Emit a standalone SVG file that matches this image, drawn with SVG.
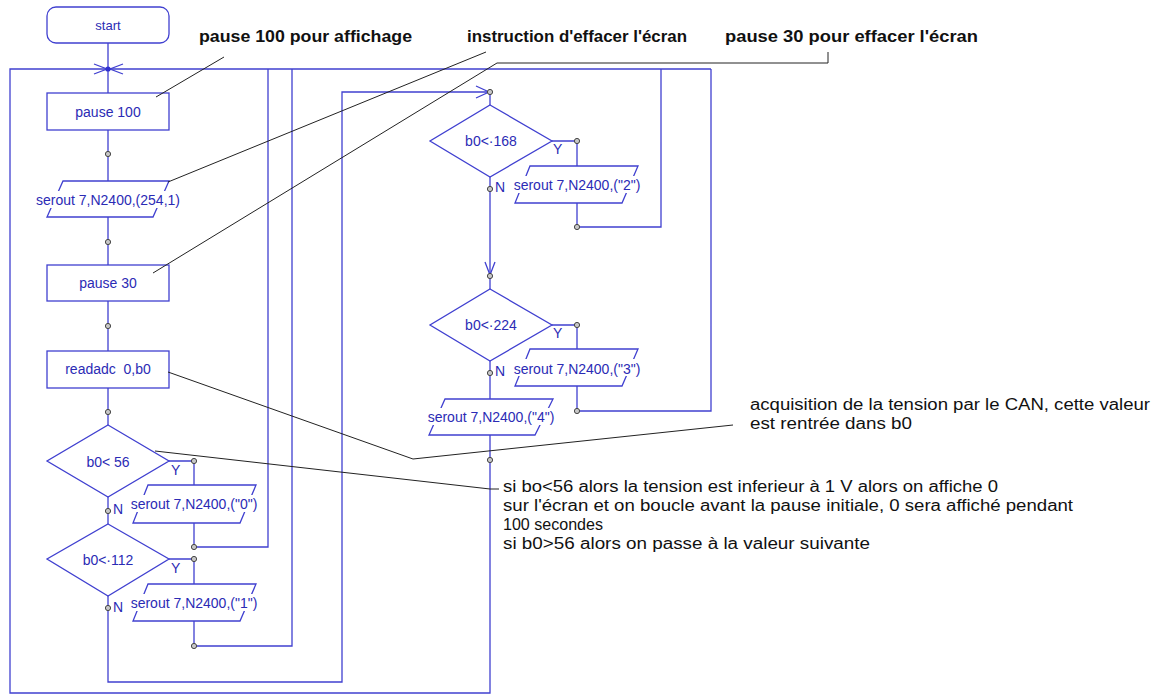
<svg xmlns="http://www.w3.org/2000/svg" width="1161" height="695" viewBox="0 0 1161 695">
  <style>
    .ln { fill: none; stroke: #4040d0; stroke-width: 1.3; }
    .box { fill: #fff; stroke: #4040d0; stroke-width: 1.3; }
    .bg { fill: #fff; stroke: none; }
    .t { font-family: "Liberation Sans", Arial, sans-serif; font-size: 14px; fill: #2b2bb5; text-anchor: middle; }
    .lbl { font-family: "Liberation Sans", Arial, sans-serif; font-size: 14px; fill: #2b2bb5; }
    .dot { fill: #c8c8c8; stroke: #444; stroke-width: 1; }
    .note { fill: none; stroke: #222; stroke-width: 1; }
    .nb { font-family: "Liberation Sans", Arial, sans-serif; font-size: 16px; font-weight: bold; fill: #111; }
    .nr { font-family: "Liberation Sans", Arial, sans-serif; font-size: 16px; fill: #111; }
  </style>

  <!-- connectors -->
  <g id="connectors">
    <!-- main column -->
    <path class="ln" d="M108 43 V93 M108 130 V181 M108 217 V265 M108 301 V351 M108 388 V425 M108 497 V524"/>
    <!-- outer loop -->
    <path class="ln" d="M490 460 V693 H10 V69 H711"/>
    <!-- b0<56 yes branch -->
    <path class="ln" d="M169 461 H194 V485 M194 523 V547 H268 V69"/>
    <!-- b0<112 yes branch -->
    <path class="ln" d="M169 559 H194 V584 M194 621 V646 H292 V69"/>
    <!-- b0<112 no branch, to right column -->
    <path class="ln" d="M108 596 V682 H342 V92 H490"/>
    <path class="ln" d="M476 86 L489 92 L476 98"/>
    <!-- right column -->
    <path class="ln" d="M490 92 V105 M490 177 V289 M490 361 V399 M490 435 V460"/>
    <path class="ln" d="M485 262 L490 275 L495 262"/>
    <path class="ln" d="M552 141 H577 V166 M577 203 V227 H661 V69"/>
    <path class="ln" d="M552 325 H577 V349 M577 386 V411 H711 V69"/>
    <!-- merge point under start -->
    <path class="ln" d="M94 64 L107 69 L94 74 M123 64 L110 69 L123 74"/>
    <circle cx="108" cy="69" r="2.6" fill="#3030d0"/>
    <!-- junction points -->
    <g>
      <circle class="dot" cx="108" cy="154" r="2.6"/>
      <circle class="dot" cx="108" cy="242" r="2.6"/>
      <circle class="dot" cx="108" cy="326" r="2.6"/>
      <circle class="dot" cx="108" cy="412" r="2.6"/>
      <circle class="dot" cx="108" cy="511" r="2.6"/>
      <circle class="dot" cx="108" cy="608" r="2.6"/>
      <circle class="dot" cx="194" cy="461" r="2.6"/>
      <circle class="dot" cx="194" cy="547" r="2.6"/>
      <circle class="dot" cx="194" cy="559" r="2.6"/>
      <circle class="dot" cx="194" cy="646" r="2.6"/>
      <circle class="dot" cx="490" cy="92" r="2.6"/>
      <circle class="dot" cx="490" cy="189" r="2.6"/>
      <circle class="dot" cx="490" cy="276" r="2.6"/>
      <circle class="dot" cx="490" cy="373" r="2.6"/>
      <circle class="dot" cx="490" cy="460" r="2.6"/>
      <circle class="dot" cx="577" cy="141" r="2.6"/>
      <circle class="dot" cx="577" cy="227" r="2.6"/>
      <circle class="dot" cx="577" cy="325" r="2.6"/>
      <circle class="dot" cx="577" cy="411" r="2.6"/>
    </g>
    <!-- branch labels -->
    <text class="lbl" x="171" y="475">Y</text>
    <text class="lbl" x="113" y="514">N</text>
    <text class="lbl" x="171" y="573">Y</text>
    <text class="lbl" x="113" y="612">N</text>
    <text class="lbl" x="553" y="154">Y</text>
    <text class="lbl" x="495" y="192">N</text>
    <text class="lbl" x="553" y="338">Y</text>
    <text class="lbl" x="495" y="376">N</text>
  </g>

  <!-- nodes -->
  <g id="start">
    <rect class="box" x="47" y="7" width="122" height="36" rx="9"/>
    <text class="t" x="108" y="30" style="font-size:13px">start</text>
  </g>
  <g id="pause100">
    <rect class="box" x="47" y="93" width="122" height="37"/>
    <text class="t" x="108" y="117">pause 100</text>
  </g>
  <g id="serout-clear">
    <polygon class="box" points="63,181 169,181 153,217 47,217"/>
    <rect class="bg" x="36" y="191" width="146" height="17"/>
    <text class="t" x="108" y="205">serout 7,N2400,(254,1)</text>
  </g>
  <g id="pause30">
    <rect class="box" x="47" y="265" width="122" height="36"/>
    <text class="t" x="108" y="288">pause 30</text>
  </g>
  <g id="readadc">
    <rect class="box" x="47" y="351" width="122" height="37"/>
    <text class="t" x="108" y="374" xml:space="preserve">readadc  0,b0</text>
  </g>
  <g id="test56">
    <polygon class="box" points="108,425 169,461 108,497 47,461"/>
    <text class="t" x="108" y="467">b0&lt; 56</text>
  </g>
  <g id="out0">
    <polygon class="box" points="148,485 256,485 240,523 133,523"/>
    <rect class="bg" x="130" y="495" width="129" height="17"/>
    <text class="t" x="194" y="509">serout 7,N2400,("0")</text>
  </g>
  <g id="test112">
    <polygon class="box" points="108,524 169,559 108,596 47,559"/>
    <text class="t" x="108" y="565">b0&lt;·112</text>
  </g>
  <g id="out1">
    <polygon class="box" points="148,584 256,584 240,621 133,621"/>
    <rect class="bg" x="130" y="594" width="129" height="17"/>
    <text class="t" x="194" y="608">serout 7,N2400,("1")</text>
  </g>
  <g id="test168">
    <polygon class="box" points="490,105 552,141 490,177 430,141"/>
    <text class="t" x="491" y="146">b0&lt;·168</text>
  </g>
  <g id="out2">
    <polygon class="box" points="530,166 638,166 622,203 515,203"/>
    <rect class="bg" x="512" y="176" width="129" height="17"/>
    <text class="t" x="577" y="190">serout 7,N2400,("2")</text>
  </g>
  <g id="test224">
    <polygon class="box" points="490,289 552,325 490,361 430,325"/>
    <text class="t" x="491" y="330">b0&lt;·224</text>
  </g>
  <g id="out3">
    <polygon class="box" points="530,349 638,349 622,386 515,386"/>
    <rect class="bg" x="512" y="359" width="129" height="17"/>
    <text class="t" x="577" y="374">serout 7,N2400,("3")</text>
  </g>
  <g id="out4">
    <polygon class="box" points="445,399 553,399 535,435 429,435"/>
    <rect class="bg" x="426" y="408" width="130" height="17"/>
    <text class="t" x="491" y="422">serout 7,N2400,("4")</text>
  </g>

  <!-- comments -->
  <g id="notes">
    <path class="note" d="M224 57 L156 97"/>
    <path class="note" d="M486 52 L168 182"/>
    <path class="note" d="M828 52 V63 H497 L153 273"/>
    <path class="note" d="M168 372 L413 459 L733 425"/>
    <path class="note" d="M155 451 L490 489 L499 489"/>
    <text class="nb" x="199" y="42" textLength="213" lengthAdjust="spacingAndGlyphs">pause 100 pour affichage</text>
    <text class="nb" x="467" y="42" textLength="220" lengthAdjust="spacingAndGlyphs">instruction d'effacer l'écran</text>
    <text class="nb" x="725" y="42" textLength="253" lengthAdjust="spacingAndGlyphs">pause 30 pour effacer l'écran</text>
    <text class="nr" x="750" y="410" textLength="400" lengthAdjust="spacingAndGlyphs">acquisition de la tension par le CAN, cette valeur</text>
    <text class="nr" x="750" y="429" textLength="162" lengthAdjust="spacingAndGlyphs">est rentrée dans b0</text>
    <text class="nr" x="503" y="492" textLength="495" lengthAdjust="spacingAndGlyphs">si bo&lt;56 alors la tension est inferieur à 1 V alors on affiche 0</text>
    <text class="nr" x="503" y="511" textLength="570" lengthAdjust="spacingAndGlyphs">sur l'écran et on boucle avant la pause initiale, 0 sera affiché pendant</text>
    <text class="nr" x="503" y="530" textLength="100" lengthAdjust="spacingAndGlyphs">100 secondes</text>
    <text class="nr" x="503" y="549" textLength="367" lengthAdjust="spacingAndGlyphs">si b0&gt;56 alors on passe à la valeur suivante</text>
  </g>
</svg>
